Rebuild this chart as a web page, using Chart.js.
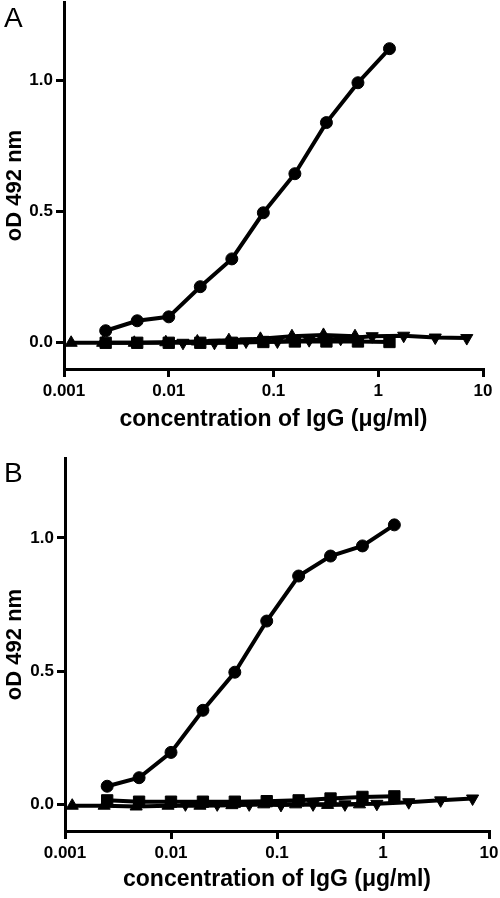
<!DOCTYPE html>
<html>
<head>
<meta charset="utf-8">
<script src="https://cdn.jsdelivr.net/npm/chart.js@4/dist/chart.umd.min.js"></script>
<style>
  html, body { margin: 0; padding: 0; background: #fff; }
  #wrap { position: relative; width: 500px; height: 898px; overflow: hidden; }
  canvas { position: absolute; left: 0; }
</style>
</head>
<body>
<div id="wrap">
  <canvas id="chartA" width="500" height="450" style="top:0px"></canvas>
  <canvas id="chartB" width="500" height="448" style="top:450px"></canvas>
</div>
<script>
// ---------- data ----------
const panelLabels = ['A', 'B'];
const xTitle = 'concentration of IgG (\u03bcg/ml)';
const yTitle = 'oD 492 nm';
const xTicks = [0.001, 0.01, 0.1, 1, 10];
const xTickLabels = ['0.001', '0.01', '0.1', '1', '10'];
const yTicks = [0, 0.5, 1.0];
const yTickLabels = ['0.0', '0.5', '1.0'];

const concCircle = [0.0025, 0.005, 0.01, 0.02, 0.04, 0.08, 0.16, 0.32, 0.64, 1.28];
const concSquare = [0.0025, 0.005, 0.01, 0.02, 0.04, 0.08, 0.16, 0.32, 0.64, 1.28];
const concUp     = [0.00117, 0.00234, 0.00469, 0.009375, 0.01875, 0.0375, 0.075, 0.15, 0.3, 0.6];
const concDown   = [0.01367, 0.0273, 0.0547, 0.109, 0.219, 0.4375, 0.875, 1.75, 3.5, 7.0];

const odCircleA = [0.046, 0.084, 0.099, 0.214, 0.32, 0.496, 0.645, 0.84, 0.992, 1.122];
const odSquareA = [0.0, 0.0, 0.0, 0.0, 0.0, 0.003, 0.005, 0.005, 0.005, 0.003];
const odUpA     = [0.0, 0.0, 0.0, 0.002, 0.005, 0.01, 0.015, 0.025, 0.03, 0.025];
const odDownA   = [0.0, 0.0, 0.005, 0.005, 0.01, 0.015, 0.025, 0.027, 0.02, 0.018];

const odCircleB = [0.068, 0.10, 0.195, 0.353, 0.496, 0.688, 0.857, 0.932, 0.97, 1.049];
const odSquareB = [0.015, 0.01, 0.01, 0.01, 0.01, 0.012, 0.015, 0.022, 0.028, 0.03];
const odUpB     = [-0.005, -0.005, -0.008, -0.005, -0.005, -0.003, 0.0, 0.0, -0.002, 0.0];
const odDownB   = [0.0, 0.0, 0.0, -0.002, 0.0, 0.0, 0.002, 0.008, 0.015, 0.022];

// ---------- chart building ----------
const FAMILY = '"Liberation Sans", Arial, Helvetica, sans-serif';
const pts = (xs, ys) => xs.map((x, i) => ({ x: x, y: ys[i] }));

function series(xs, ys, style, radius, rotation) {
  return {
    data: pts(xs, ys),
    borderColor: '#000',
    backgroundColor: '#000',
    borderWidth: 4,
    tension: 0,
    pointStyle: style,
    pointRadius: radius,
    pointHoverRadius: radius,
    pointRotation: rotation || 0,
    pointBackgroundColor: '#000',
    pointBorderColor: '#000',
    pointBorderWidth: 1,
    clip: false
  };
}

const letterPlugin = {
  id: 'panelLetter',
  afterDraw(chart, args, opts) {
    const ctx = chart.ctx;
    ctx.save();
    ctx.fillStyle = '#000';
    ctx.font = '28px ' + FAMILY;
    ctx.textBaseline = 'alphabetic';
    ctx.textAlign = 'left';
    ctx.fillText(opts.text, opts.x, opts.y);
    ctx.restore();
  }
};

function makeChart(id, label, sets, geo) {
  return new Chart(document.getElementById(id), {
    type: 'line',
    data: { datasets: sets },
    plugins: [letterPlugin],
    options: {
      responsive: false,
      animation: false,
      events: [],
      layout: { autoPadding: false, padding: { left: 0, right: geo.right, top: geo.top, bottom: 0 } },
      plugins: {
        legend: { display: false },
        tooltip: { enabled: false },
        panelLetter: { text: label, x: 4, y: geo.letterY }
      },
      scales: {
        x: {
          type: 'logarithmic',
          min: 0.001, max: 10,
          afterBuildTicks: s => { s.ticks = xTicks.map(v => ({ value: v, major: true })); },
          afterFit: s => { s.height = geo.xHeight; s.paddingLeft = 0; s.paddingRight = 0; },
          ticks: {
            autoSkip: false, maxRotation: 0, minRotation: 0, padding: 4,
            color: '#000',
            font: { family: FAMILY, size: 17, weight: 'bold' },
            callback: (v, i) => xTickLabels[i]
          },
          grid: { drawOnChartArea: false, drawTicks: true, tickLength: 8, tickWidth: 3, tickColor: '#000', color: '#000', lineWidth: 3 },
          border: { display: true, color: '#000', width: 3 },
          title: {
            display: true, text: xTitle, color: '#000',
            font: { family: FAMILY, size: 23, weight: 'bold' },
            padding: { top: 0, bottom: geo.xTitlePad }
          }
        },
        y: {
          type: 'linear',
          min: -0.1, max: 1.3,
          afterBuildTicks: s => { s.ticks = yTicks.map(v => ({ value: v })); },
          afterFit: s => { s.width = geo.left; s.paddingTop = 0; s.paddingBottom = 0; },
          ticks: {
            padding: 3,
            color: '#000',
            font: { family: FAMILY, size: 17, weight: 'bold' },
            callback: (v, i) => yTickLabels[i]
          },
          grid: { drawOnChartArea: false, drawTicks: true, tickLength: 8, tickWidth: 3, tickColor: '#000', color: '#000', lineWidth: 3 },
          border: { display: true, color: '#000', width: 3 },
          title: {
            display: true, text: yTitle, color: '#000',
            font: { family: FAMILY, size: 22, weight: 'bold' },
            padding: { top: 2, bottom: 0 }
          }
        }
      }
    }
  });
}

makeChart('chartA', panelLabels[0], [
  series(concCircle, odCircleA, 'circle', 6),
  series(concSquare, odSquareA, 'rect', 8),
  series(concUp, odUpA, 'triangle', 7),
  series(concDown, odDownA, 'triangle', 7, 180)
], { left: 64, right: 17, top: 2, xHeight: 81, xTitlePad: 17, letterY: 27 });

makeChart('chartB', panelLabels[1], [
  series(concCircle, odCircleB, 'circle', 6),
  series(concSquare, odSquareB, 'rect', 8),
  series(concUp, odUpB, 'triangle', 7),
  series(concDown, odDownB, 'triangle', 7, 180)
], { left: 65, right: 11, top: 8, xHeight: 67, xTitlePad: 5, letterY: 32 });
</script>
</body>
</html>
